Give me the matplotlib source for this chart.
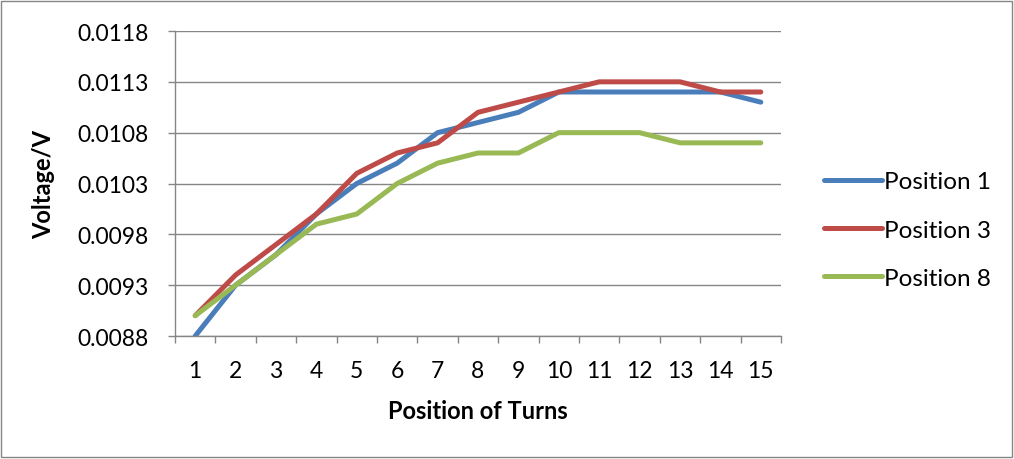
import numpy as np
import matplotlib.pyplot as plt
from matplotlib.patches import Rectangle
from matplotlib.ticker import FixedLocator

plt.rcParams['font.family'] = ['Lato', 'DejaVu Sans']

turns = list(range(1, 16))
pos1 = [0.0088, 0.0093, 0.0096, 0.0100, 0.0103, 0.0105, 0.0108, 0.0109,
        0.0110, 0.0112, 0.0112, 0.0112, 0.0112, 0.0112, 0.0111]
pos3 = [0.0090, 0.0094, 0.0097, 0.0100, 0.0104, 0.0106, 0.0107, 0.0110,
        0.0111, 0.0112, 0.0113, 0.0113, 0.0113, 0.0112, 0.0112]
pos8 = [0.0090, 0.0093, 0.0096, 0.0099, 0.0100, 0.0103, 0.0105, 0.0106,
        0.0106, 0.0108, 0.0108, 0.0108, 0.0107, 0.0107, 0.0107]
yticks = [0.0088, 0.0093, 0.0098, 0.0103, 0.0108, 0.0113, 0.0118]

series = [("Position 1", pos1, "#4A7EBB"),
          ("Position 3", pos3, "#BE4B48"),
          ("Position 8", pos8, "#98B954")]

fig = plt.figure(figsize=(10.14, 4.6), dpi=100)
ax = fig.add_axes([175/1014, 1 - 337/460, (781-175)/1014, (337-32)/460])

for name, vals, col in series:
    ax.plot(turns, vals, color=col, lw=3.6, label=name,
            solid_capstyle='round', solid_joinstyle='round')

ax.set_xlim(0.5, 15.5)
ax.set_ylim(0.0088, 0.0118)
ax.set_yticks(yticks)
ax.set_yticklabels([f"{v:.4f}" for v in yticks])
ax.set_xticks(turns)
ax.xaxis.set_minor_locator(FixedLocator(np.arange(0.5, 16, 1)))
ax.tick_params(axis='x', which='major', length=0, pad=17, labelsize=16.5)
ax.tick_params(axis='x', which='minor', length=5, color='#868686', width=1)
ax.tick_params(axis='y', length=5, color='#868686', width=1, pad=14, labelsize=16.5)

ax.grid(axis='y', color='#868686', lw=1)
ax.set_axisbelow(True)
for s in ['top', 'right']:
    ax.spines[s].set_visible(False)
for s in ['left', 'bottom']:
    ax.spines[s].set_color('#868686')
    ax.spines[s].set_linewidth(1)

ax.set_xlabel("Position of Turns", fontsize=17, fontweight='bold', labelpad=13)
ax.set_ylabel("Voltage/V", fontsize=17, fontweight='bold')
ax.yaxis.set_label_coords(-0.198, 0.5)

ax.legend(loc='center left', bbox_to_anchor=(1.035, (337 - 231) / 305),
          frameon=False, fontsize=17.5, handlelength=2.4, handletextpad=0.05,
          labelspacing=1.12)

fig.patches.append(Rectangle((1/1014, 2/460), 1011/1014, 456/460,
                             transform=fig.transFigure, fill=False,
                             edgecolor='#868686', lw=1))

fig.savefig("out.png", dpi=100)
